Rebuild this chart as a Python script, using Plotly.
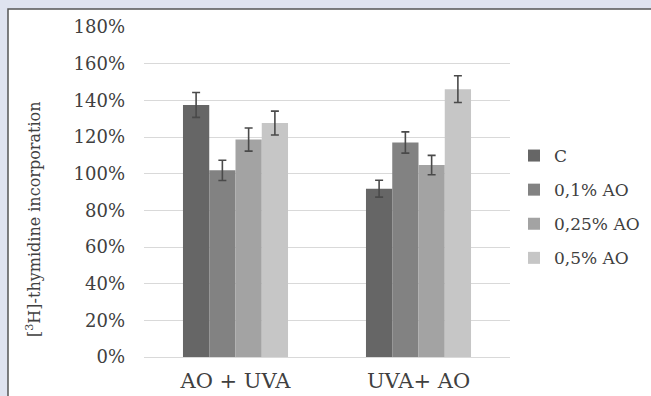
import plotly.graph_objects as go

categories = ["AO + UVA", "UVA+ AO"]
series_names = ["C", "0,1% AO", "0,25% AO", "0,5% AO"]
values = {
    "C": [137.5, 91.8],
    "0,1% AO": [101.8, 117.0],
    "0,25% AO": [118.6, 104.7],
    "0,5% AO": [127.6, 146.1],
}
errors = {
    "C": [6.8, 4.6],
    "0,1% AO": [5.5, 5.8],
    "0,25% AO": [6.3, 5.3],
    "0,5% AO": [6.5, 7.3],
}
colors = ["#666666", "#828282", "#a3a3a3", "#c6c6c6"]
y_ticks = [0, 20, 40, 60, 80, 100, 120, 140, 160, 180]
y_tick_labels = [f"{v}%" for v in y_ticks]

FONT = "DejaVu Serif"

fig = go.Figure()
for i, name in enumerate(series_names):
    fig.add_trace(go.Bar(
        x=categories, y=values[name], name=name,
        marker=dict(color=colors[i], line=dict(width=0)),
        error_y=dict(type="data", array=errors[name], color="#4a4a4a",
                     thickness=1.6, width=4),
        legendgroup=name,
    ))

W, H = 651, 396
L, R, T, B = 144, 510, 27, 357
pw, ph = R - L, B - T

def px(x):
    return (x - L) / pw

def py(y):
    return (B - y) / ph

fig.update_layout(
    width=W, height=H,
    margin=dict(l=L, r=W - R, t=T, b=H - B, pad=0, autoexpand=False),
    paper_bgcolor="#dfe3f0",
    plot_bgcolor="rgba(0,0,0,0)",
    barmode="group",
    bargap=0.426,
    bargroupgap=0,
    font=dict(family=FONT, color="#404040", size=17),
    showlegend=True,
    legend=dict(
        x=px(514), y=py(138), xanchor="left", yanchor="top",
        font=dict(family=FONT, size=17, color="#404040"),
        bgcolor="rgba(0,0,0,0)",
        tracegroupgap=9,
        itemwidth=30,
    ),
    xaxis=dict(
        showgrid=False, showline=False, zeroline=False,
        tickfont=dict(family=FONT, size=21, color="#404040"),
        ticks="", ticklabelstandoff=9,
    ),
    yaxis=dict(
        range=[0, 180], tickvals=y_ticks, ticktext=y_tick_labels,
        showgrid=True, gridcolor="#d9d9d9", gridwidth=1,
        zeroline=True, zerolinecolor="#d9d9d9", zerolinewidth=1,
        showline=False, ticks="", ticklabelstandoff=18,
        tickfont=dict(family=FONT, size=18, color="#404040"),
    ),
    shapes=[dict(
        type="rect", xref="paper", yref="paper",
        x0=px(8), x1=px(W + 10), y0=py(H + 10), y1=py(9),
        fillcolor="white", line=dict(color="#555555", width=1.5),
        layer="below",
    )],
    annotations=[dict(
        text="[<sup>3</sup>H]-thymidine incorporation",
        xref="paper", yref="paper", x=px(33), y=py(220),
        showarrow=False, textangle=-90,
        font=dict(family=FONT, size=16, color="#404040"),
        xanchor="center", yanchor="middle",
    )],
)

fig.write_html(
    "out.html",
    config={"displayModeBar": False},
    post_script="document.body.style.margin='0';document.body.style.padding='0';",
)
